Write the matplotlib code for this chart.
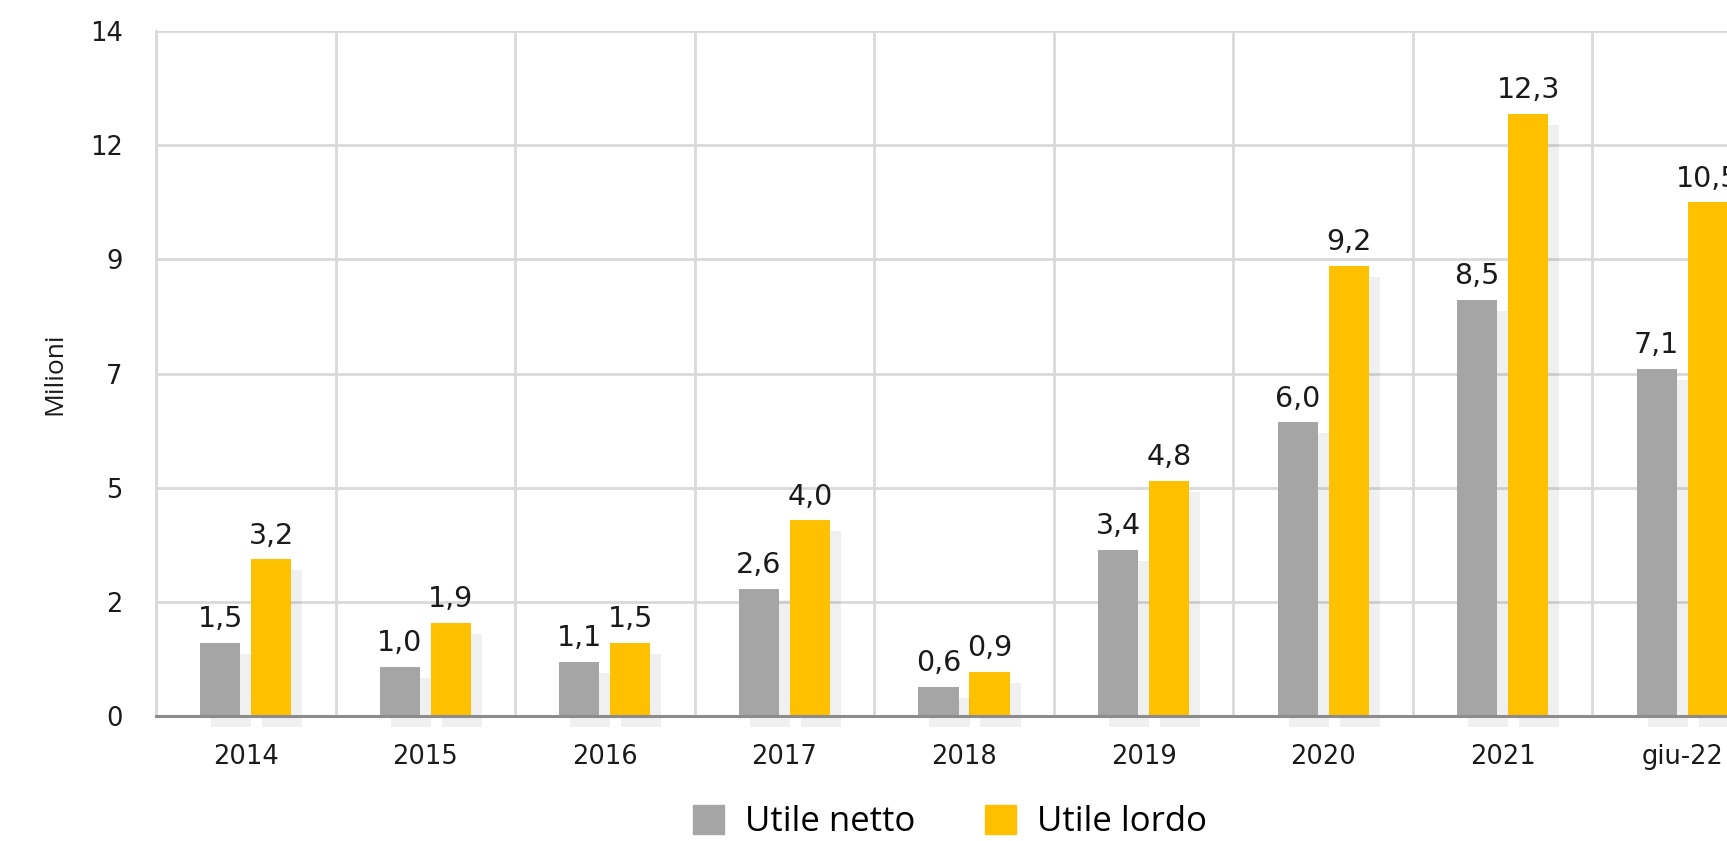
import numpy as np
import matplotlib
matplotlib.use("Agg")
import matplotlib.pyplot as plt
import matplotlib.transforms as mtransforms
from matplotlib.patches import Patch

# data
categories = ["2014", "2015", "2016", "2017", "2018", "2019", "2020", "2021", "giu-22"]
utile_netto = [1.5, 1.0, 1.1, 2.6, 0.6, 3.4, 6.0, 8.5, 7.1]
utile_lordo = [3.2, 1.9, 1.5, 4.0, 0.9, 4.8, 9.2, 12.3, 10.5]
series_names = ["Utile netto", "Utile lordo"]

GRAY = "#a5a5a5"
YELLOW = "#ffc000"
GRID = "#d9d9d9"
TXT = "#1a1a1a"

plt.rcParams["font.family"] = ["DejaVu Sans"]

fig = plt.figure(figsize=(17.27, 8.41), dpi=100)
# the original chart is clipped on the right, so the axes run past the figure edge
ax = fig.add_axes([156 / 1727, 1 - 716 / 841, (1772 - 156) / 1727, (716 - 31) / 841])

x = np.arange(len(categories))
w = 0.223
off = 0.142

# soft drop shadow, shifted right/down by 11 px
shadow = ax.transData + mtransforms.ScaledTranslation(0.11, -0.11, fig.dpi_scale_trans)
ax.bar(x + off, utile_lordo, w, color="black", alpha=0.06, transform=shadow,
       zorder=1.5, clip_on=False, linewidth=0)
ax.bar(x - off, utile_netto, w, color="black", alpha=0.06, transform=shadow,
       zorder=2.5, clip_on=False, linewidth=0)

b1 = ax.bar(x - off, utile_netto, w, color=GRAY, zorder=3, linewidth=0)
b2 = ax.bar(x + off, utile_lordo, w, color=YELLOW, zorder=2, linewidth=0)

for bars, vals in ((b1, utile_netto), (b2, utile_lordo)):
    for r, v in zip(bars, vals):
        ax.annotate(f"{v:.1f}".replace(".", ","),
                    (r.get_x() + r.get_width() / 2, r.get_height()),
                    xytext=(0, 7), textcoords="offset points",
                    ha="center", va="bottom", fontsize=20.5, color=TXT,
                    zorder=5, annotation_clip=False)

ax.set_xlim(-0.5, len(categories) - 0.5)
ax.set_ylim(0, 14)
yt = np.linspace(0, 14, 7)
ax.set_yticks(yt)
ax.set_yticklabels([f"{t:.0f}" for t in yt])
ax.set_xticks(x)
ax.set_xticklabels(categories)
ax.set_xticks(np.arange(len(categories) + 1) - 0.5, minor=True)

ax.grid(False)
ax.yaxis.grid(True, color=GRID, linewidth=2, zorder=0)
ax.xaxis.grid(True, which="minor", color=GRID, linewidth=2, zorder=0)
ax.set_axisbelow(True)
ax.tick_params(axis="both", which="both", length=0, labelsize=18.5, colors=TXT)
ax.tick_params(axis="y", pad=24)
ax.tick_params(axis="x", pad=20)

for s in ("top", "right"):
    ax.spines[s].set_visible(False)
ax.spines["left"].set_color(GRID)
ax.spines["left"].set_linewidth(2)
ax.spines["bottom"].set_color("#8c8c8c")
ax.spines["bottom"].set_linewidth(2.2)
ax.spines["bottom"].set_zorder(4)

fig.text(55 / 1727, 1 - 374 / 841, "Milioni", rotation=90, ha="center", va="center",
         fontsize=19, color=TXT, family=["Open Sans", "DejaVu Sans"])

handles = [Patch(color=GRAY), Patch(color=YELLOW)]
fig.legend(handles, series_names, loc="center", bbox_to_anchor=(950 / 1727, 1 - 822 / 841),
           ncol=2, frameon=False, handlelength=0.9, handleheight=0.9,
           handletextpad=0.6, columnspacing=2.0,
           prop={"family": ["Open Sans", "DejaVu Sans"], "size": 25})

fig.savefig("out.png", dpi=100)
